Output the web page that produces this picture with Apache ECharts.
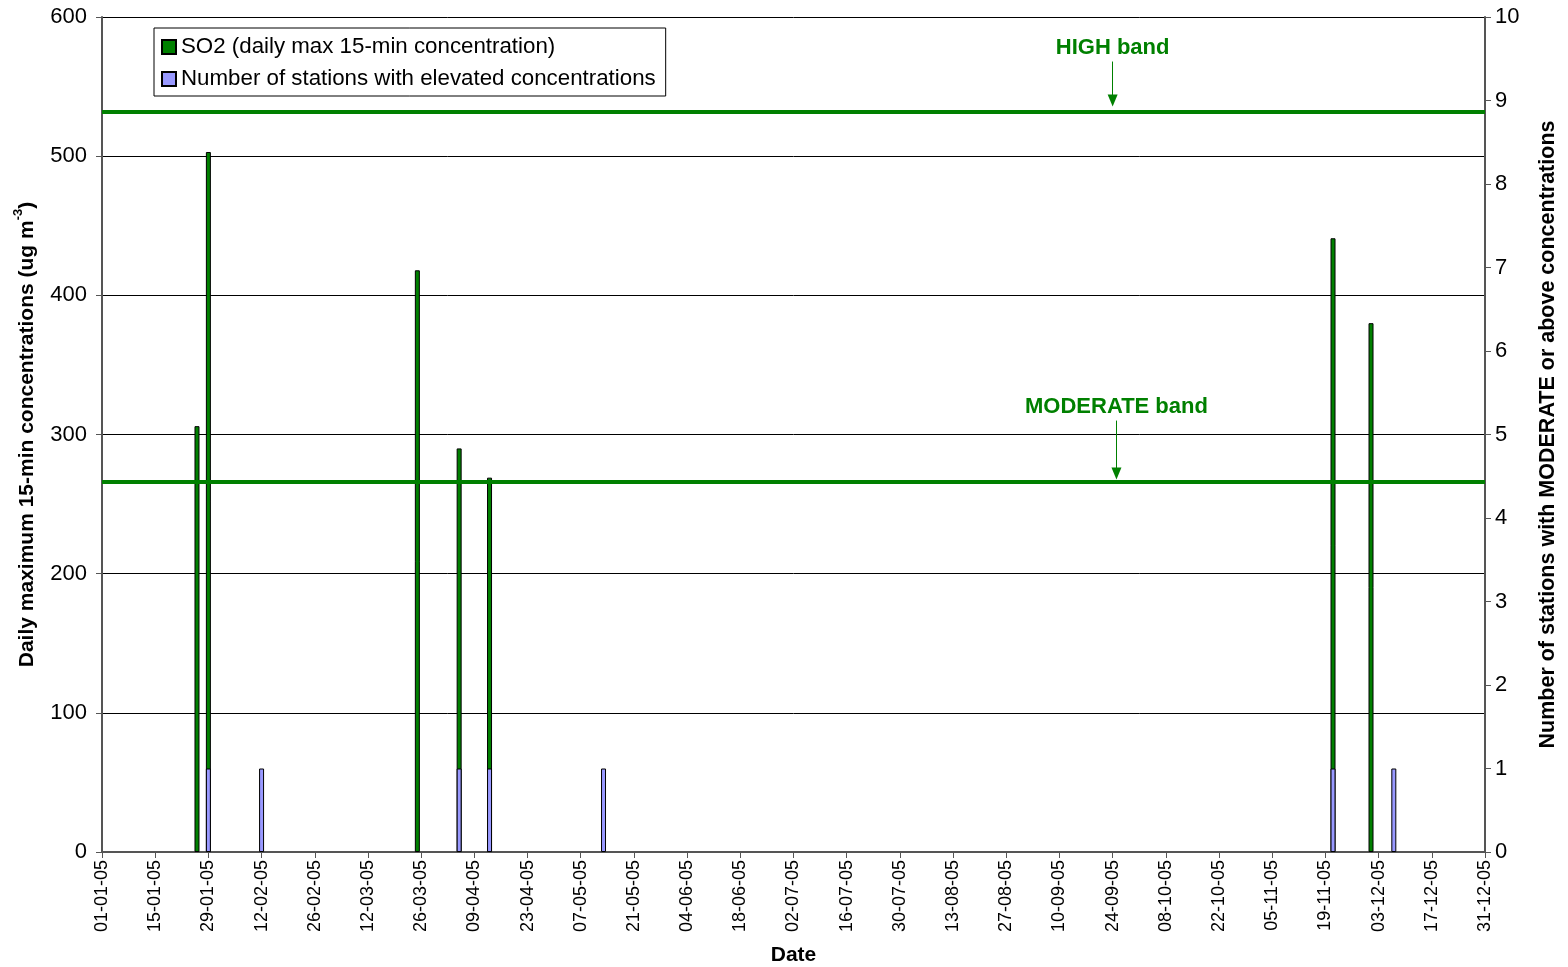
<!DOCTYPE html>
<html>
<head>
<meta charset="utf-8">
<script src="https://cdn.jsdelivr.net/npm/echarts@6/dist/echarts.min.js"></script>
<style>
html, body { margin: 0; padding: 0; background: #fff; }
#chart { width: 1568px; height: 967px; }
</style>
</head>
<body>
<div id="chart"></div>
<script>
// SO2 daily max 15-min concentration (ug m-3), days where it was recorded
const so2Dates = ['2005-01-26', '2005-01-29', '2005-03-25', '2005-04-05', '2005-04-13', '2005-11-21', '2005-12-01']
const so2Values = [306, 503, 418, 290, 269, 441, 380]

// number of stations at MODERATE or above
const stationDates = ['2005-01-29', '2005-02-12', '2005-04-05', '2005-04-13', '2005-05-13', '2005-11-21', '2005-12-07']
const stationCounts = [1, 1, 1, 1, 1, 1, 1]

// band thresholds
const moderateBand = 266
const highBand = 532

const yearStart = Date.UTC(2005, 0, 1)
const DAY = 86400000
const FONT = 'Liberation Sans'

const dayOf = (s) => Math.round((Date.parse(s + 'T00:00:00Z') - yearStart) / DAY)
const pad = (n) => (n < 10 ? '0' : '') + n
const dayLabel = (v) => {
    const d = new Date(yearStart + v * DAY)
    return pad(d.getUTCDate()) + '-' + pad(d.getUTCMonth() + 1) + '-' + pad(d.getUTCFullYear() % 100)
}

const so2Data = so2Dates.map((d, i) => [dayOf(d), so2Values[i]])
const stationData = stationDates.map((d, i) => [dayOf(d), stationCounts[i]])

const bandLabel = {
    show: true,
    position: 'start',
    distance: 3,
    color: '#008000',
    fontFamily: FONT,
    fontWeight: 'bold',
    fontSize: 22
}
const arrowLine = { color: '#008000', width: 1, type: 'solid' }
const bandLine = { color: '#008000', width: 4, type: 'solid' }

const myChart = echarts.init(document.getElementById('chart'))
const option = {
    animation: false,
    textStyle: { fontFamily: FONT },
    grid: { left: 102, right: 83, top: 17, bottom: 115, containLabel: false, outerBoundsMode: 'none' },
    legend: {
        orient: 'vertical',
        left: 154,
        top: 28,
        backgroundColor: '#fff',
        borderColor: '#000',
        borderWidth: 1,
        borderRadius: 0,
        padding: [8, 10, 6, 7],
        itemGap: 10,
        itemWidth: 14,
        itemHeight: 14,
        icon: 'rect',
        textStyle: { fontFamily: FONT, fontSize: 22.3, color: '#000' },
        data: ['SO2 (daily max 15-min concentration)', 'Number of stations with elevated concentrations']
    },
    xAxis: {
        type: 'value',
        min: 0,
        max: 364,
        interval: 14,
        name: 'Date',
        nameLocation: 'middle',
        nameGap: 93,
        nameTextStyle: { fontFamily: FONT, fontWeight: 'bold', fontSize: 21, color: '#000' },
        axisLine: { show: true, lineStyle: { color: '#555', width: 2 } },
        axisTick: { show: true, length: 6, lineStyle: { color: '#555' } },
        splitLine: { show: false },
        axisLabel: {
            rotate: 90,
            margin: 8,
            fontSize: 18,
            color: '#000',
            formatter: dayLabel
        }
    },
    yAxis: [
        {
            type: 'value',
            min: 0,
            max: 600,
            interval: 100,
            name: '{t|Daily maximum 15-min concentrations (ug m}{s|-3}{t|)}',
            nameLocation: 'middle',
            nameRotate: 90,
            nameGap: 64,
            nameTextStyle: {
                rich: {
                    t: { fontFamily: FONT, fontWeight: 'bold', fontSize: 21, color: '#000', lineHeight: 26, verticalAlign: 'bottom' },
                    s: { fontFamily: FONT, fontWeight: 'bold', fontSize: 13, color: '#000', lineHeight: 26, verticalAlign: 'top' }
                }
            },
            axisLine: { show: true, lineStyle: { color: '#555', width: 2 } },
            axisTick: { show: true, length: 6, lineStyle: { color: '#555' } },
            splitLine: { show: true, lineStyle: { color: '#000', width: 1 } },
            axisLabel: { fontSize: 22, color: '#000', margin: 15 }
        },
        {
            type: 'value',
            min: 0,
            max: 10,
            interval: 1,
            position: 'right',
            name: 'Number of stations with MODERATE or above concentrations',
            nameLocation: 'middle',
            nameRotate: 90,
            nameGap: 52,
            nameTextStyle: { fontFamily: FONT, fontWeight: 'bold', fontSize: 21.5, color: '#000' },
            axisLine: { show: true, lineStyle: { color: '#555', width: 2 } },
            axisTick: { show: true, length: 6, lineStyle: { color: '#555' } },
            splitLine: { show: false },
            axisLabel: { fontSize: 22, color: '#000', margin: 10 }
        }
    ],
    series: [
        {
            name: 'SO2 (daily max 15-min concentration)',
            type: 'bar',
            xAxisIndex: 0,
            yAxisIndex: 0,
            barWidth: 5,
            barGap: '-100%',
            itemStyle: { color: '#008000', borderColor: '#000', borderWidth: 1 },
            data: so2Data,
            markLine: {
                silent: true,
                symbol: 'none',
                animation: false,
                data: [
                    { yAxis: highBand, lineStyle: bandLine, label: { show: false } },
                    { yAxis: moderateBand, lineStyle: bandLine, label: { show: false } },
                    [
                        { coord: [266, 568], symbol: 'none', lineStyle: arrowLine, label: Object.assign({ formatter: 'HIGH band' }, bandLabel) },
                        { coord: [266, 540], symbol: 'triangle', symbolSize: [10, 12] }
                    ],
                    [
                        { coord: [267, 310], symbol: 'none', lineStyle: arrowLine, label: Object.assign({ formatter: 'MODERATE band' }, bandLabel) },
                        { coord: [267, 272], symbol: 'triangle', symbolSize: [10, 12] }
                    ]
                ]
            }
        },
        {
            name: 'Number of stations with elevated concentrations',
            type: 'bar',
            xAxisIndex: 0,
            yAxisIndex: 1,
            barWidth: 5,
            barGap: '-100%',
            itemStyle: { color: '#9999FF', borderColor: '#000', borderWidth: 1 },
            data: stationData
        }
    ]
}
myChart.setOption(option)
</script>
</body>
</html>
